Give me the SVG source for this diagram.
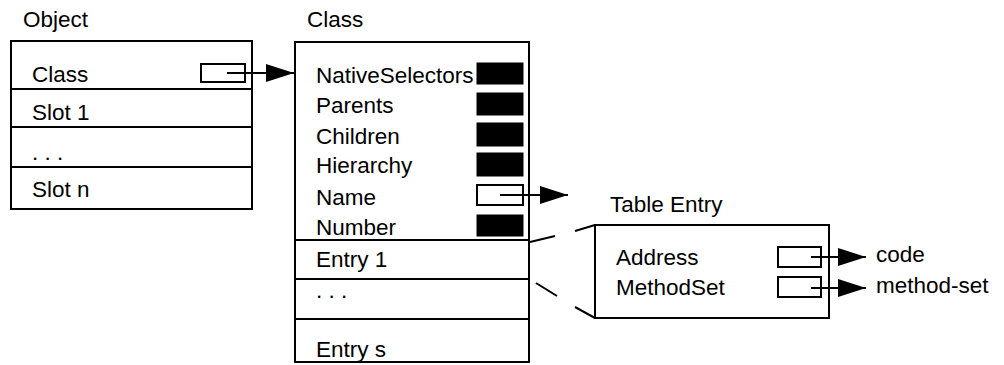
<svg xmlns="http://www.w3.org/2000/svg" width="1004" height="365" viewBox="0 0 1004 365">
  <style>
    text { font-family: "Liberation Sans", Arial, sans-serif; font-size: 22.5px; fill: #000; }
    .box { fill: #fff; stroke: #000; stroke-width: 2; }
    .rule { stroke: #000; stroke-width: 2; fill: none; }
    .slot { fill: #fff; stroke: #000; stroke-width: 2; }
    .filled { fill: #000; stroke: #000; stroke-width: 1; }
    .wire { stroke: #000; stroke-width: 2; fill: none; }
  </style>
  <defs>
    <marker id="head" viewBox="0 0 28 18" refX="28" refY="9" markerWidth="28" markerHeight="18" markerUnits="userSpaceOnUse" orient="auto">
      <path d="M0,0 L28,9 L0,18 Z" fill="#000"/>
    </marker>
  </defs>
  <rect width="1004" height="365" fill="#fff"/>

  <!-- Object record -->
  <g id="object">
    <text x="23" y="27">Object</text>
    <rect class="box" x="11" y="41" width="241" height="168"/>
    <line class="rule" x1="11" y1="89" x2="252" y2="89"/>
    <line class="rule" x1="11" y1="127" x2="252" y2="127"/>
    <line class="rule" x1="11" y1="167" x2="252" y2="167"/>
    <text x="32" y="82">Class</text>
    <text x="32" y="120">Slot 1</text>
    <text x="32" y="160">. . .</text>
    <text x="32" y="197">Slot n</text>
    <rect class="slot" x="201" y="64" width="44" height="18"/>
  </g>

  <!-- Class record -->
  <g id="class">
    <text x="307" y="27">Class</text>
    <rect class="box" x="295" y="42" width="234" height="320"/>
    <line class="rule" x1="295" y1="240" x2="529" y2="240"/>
    <line class="rule" x1="295" y1="279" x2="529" y2="279"/>
    <line class="rule" x1="295" y1="319" x2="529" y2="319"/>
    <text x="316" y="83">NativeSelectors</text>
    <text x="316" y="113">Parents</text>
    <text x="316" y="144">Children</text>
    <text x="316" y="173">Hierarchy</text>
    <text x="316" y="205">Name</text>
    <text x="316" y="235">Number</text>
    <text x="316" y="267">Entry 1</text>
    <text x="316" y="298">. . .</text>
    <text x="316" y="357">Entry s</text>
    <rect class="filled" x="477" y="63" width="46" height="21"/>
    <rect class="filled" x="477" y="93" width="46" height="22"/>
    <rect class="filled" x="477" y="123" width="46" height="23"/>
    <rect class="filled" x="477" y="153" width="46" height="23"/>
    <rect class="slot" x="477" y="185" width="46" height="20"/>
    <rect class="filled" x="477" y="215" width="46" height="21"/>
  </g>

  <!-- Table entry record -->
  <g id="table-entry">
    <text x="610" y="212">Table Entry</text>
    <rect class="box" x="595" y="225" width="234" height="93"/>
    <text x="616" y="265">Address</text>
    <text x="616" y="295">MethodSet</text>
    <rect class="slot" x="778" y="247" width="43" height="20"/>
    <rect class="slot" x="778" y="277" width="43" height="20"/>
  </g>

  <!-- Pointer targets -->
  <g id="code">
    <text x="876" y="262">code</text>
  </g>
  <g id="method-set">
    <text x="876" y="293">method-set</text>
  </g>

  <!-- Connectors -->
  <g id="connectors">
    <line class="wire" x1="227" y1="73" x2="294" y2="73" marker-end="url(#head)"/>
    <line class="wire" x1="500" y1="195" x2="568" y2="195" marker-end="url(#head)"/>
    <line class="wire" x1="811" y1="257" x2="866" y2="257" marker-end="url(#head)"/>
    <line class="wire" x1="811" y1="288" x2="866" y2="288" marker-end="url(#head)"/>
    <!-- expansion lines from Entry 1 to the table entry -->
    <line class="wire" x1="530" y1="242" x2="555" y2="236"/>
    <line class="wire" x1="536" y1="283" x2="557" y2="296"/>
    <line class="wire" x1="575" y1="231" x2="595" y2="225"/>
    <line class="wire" x1="575" y1="307" x2="595" y2="318"/>
  </g>
</svg>
